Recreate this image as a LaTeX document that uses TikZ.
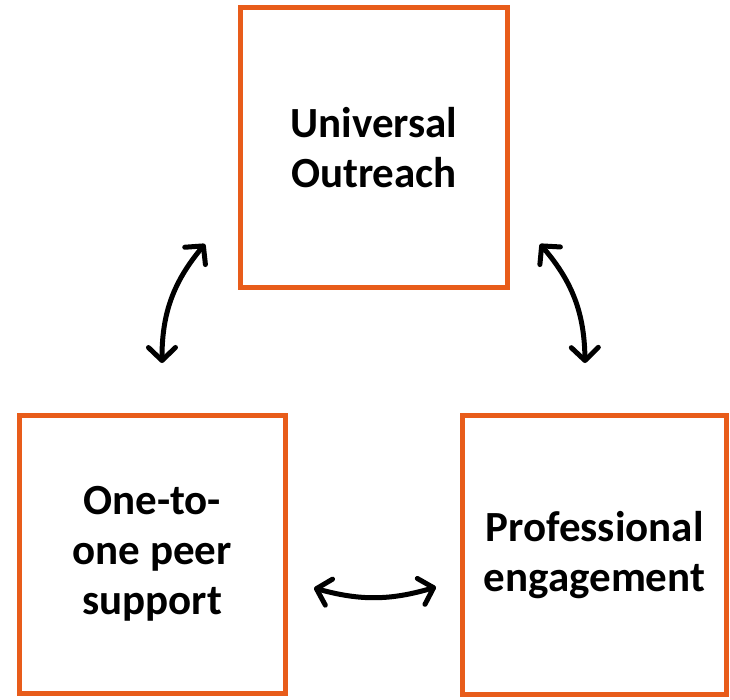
\documentclass[tikz,border=0pt]{standalone}
\usepackage{fontspec}
\setmainfont{Carlito}
\usetikzlibrary{arrows.meta}
\definecolor{boxorange}{RGB}{232,92,26}
\tikzset{
  box/.style={draw=boxorange, line width=5pt, fill=white, align=center,
    font=\fontsize{43}{50}\selectfont\bfseries, text=black, inner sep=0pt},
  conn/.style={line width=5pt, line cap=round,
    {Straight Barb[length=13pt,width=27pt,line cap=round,line join=round]}-{Straight Barb[length=13pt,width=27pt,line cap=round,line join=round]}}
}
\begin{document}
\begin{tikzpicture}[x=1pt,y=1pt]
\useasboundingbox[fill=white] (0,0) rectangle (730,-699);
\node[box, minimum width=267pt, minimum height=280pt] (UO) at (374,-147.5) {Universal\\Outreach};
\node[box, minimum width=265.5pt, minimum height=278.5pt] (OP) at (152.25,-554.25) {One-to-\\one peer\\support};
\node[box, minimum width=264pt, minimum height=279.5pt] (PE) at (594.5,-554.75) {Professional\\engagement};
\coordinate (l1) at (162,-363);
\coordinate (l2) at (205,-244);
\coordinate (r1) at (585,-363);
\coordinate (r2) at (540,-244);
\coordinate (b1) at (314,-588);
\coordinate (b2) at (436,-587);
\draw[conn] (l1) to[bend left=20] (l2);
\draw[conn] (r1) to[bend right=20] (r2);
\draw[conn] (b1) to[bend right=16] (b2);
\end{tikzpicture}
\end{document}
